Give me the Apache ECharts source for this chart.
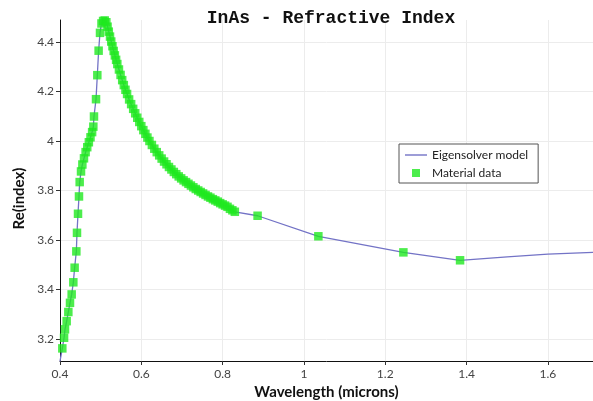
<!DOCTYPE html>
<html>
<head>
<meta charset="utf-8">
<script src="https://cdn.jsdelivr.net/npm/echarts@6/dist/echarts.min.js"></script>
<style>
  html, body { margin: 0; padding: 0; background: #fff; }
  #chart { width: 593px; height: 401px; }
</style>
</head>
<body>
<div id="chart"></div>
<script>
// material data (wavelength in microns, Re(index))
const matWl = [
  0.4057, 0.4100, 0.4123, 0.4164, 0.4205, 0.4246, 0.4287, 0.4328, 0.4360, 0.4402,
  0.4418, 0.4443, 0.4467, 0.4484, 0.4517, 0.4550, 0.4590, 0.4630, 0.4670, 0.4710,
  0.4750, 0.4790, 0.4820, 0.4836, 0.4886, 0.4918, 0.4950, 0.4984, 0.5020, 0.5060,
  0.5100, 0.5140, 0.5170, 0.5200, 0.5230, 0.5260, 0.5290, 0.5320, 0.5350, 0.5380,
  0.5410, 0.5450, 0.5490, 0.5530, 0.5570, 0.5610, 0.5650, 0.5700, 0.5750, 0.5800,
  0.5850, 0.5900, 0.5950, 0.6000, 0.6050, 0.6100, 0.6150, 0.6200, 0.6260, 0.6320,
  0.6380, 0.6440, 0.6500, 0.6560, 0.6620, 0.6680, 0.6740, 0.6800, 0.6860, 0.6920,
  0.6980, 0.7040, 0.7100, 0.7160, 0.7220, 0.7280, 0.7340, 0.7400, 0.7460, 0.7520,
  0.7580, 0.7640, 0.7700, 0.7760, 0.7820, 0.7880, 0.7940, 0.8000, 0.8060, 0.8120,
  0.8180, 0.8240, 0.8300, 0.8860, 1.0355, 1.2446, 1.3840
];
const matN = [
  3.162, 3.205, 3.239, 3.272, 3.309, 3.346, 3.380, 3.429, 3.488, 3.554,
  3.629, 3.706, 3.776, 3.834, 3.877, 3.905, 3.930, 3.955, 3.975, 3.995,
  4.015, 4.036, 4.058, 4.099, 4.169, 4.266, 4.365, 4.437, 4.475, 4.485,
  4.487, 4.480, 4.462, 4.442, 4.422, 4.402, 4.383, 4.364, 4.346, 4.328,
  4.311, 4.289, 4.267, 4.246, 4.226, 4.207, 4.190, 4.168, 4.149, 4.130,
  4.112, 4.094, 4.077, 4.060, 4.044, 4.029, 4.014, 4.000, 3.984, 3.969,
  3.955, 3.942, 3.929, 3.917, 3.906, 3.895, 3.885, 3.875, 3.866, 3.857,
  3.849, 3.841, 3.834, 3.827, 3.820, 3.813, 3.806, 3.800, 3.794, 3.788,
  3.782, 3.776, 3.771, 3.765, 3.760, 3.755, 3.749, 3.744, 3.739, 3.734,
  3.726, 3.720, 3.714, 3.698, 3.615, 3.550, 3.518
];
// model curve ends beyond the data
const modelHeadWl = [0.400];
const modelHeadN = [3.110];
const modelTailWl = [1.500, 1.600, 1.711];
const modelTailN = [3.532, 3.543, 3.550];

const yTicks = [3.2, 3.4, 3.6, 3.8, 4.0, 4.2, 4.4];

const matData = matWl.map((w, i) => [w, matN[i]]);
const modelData = modelHeadWl.map((w, i) => [w, modelHeadN[i]])
  .concat(matData)
  .concat(modelTailWl.map((w, i) => [w, modelTailN[i]]));

const labelFont = "Lato";
const lineColor = "#7373c6";
const dotColor = "#1fe81f";

const chart = echarts.init(document.getElementById("chart"));
chart.setOption({
  animation: false,
  title: {
    text: "InAs - Refractive Index",
    left: 326,
    textAlign: "center",
    top: 4,
    textStyle: { fontFamily: "Liberation Mono", fontWeight: "bold", fontSize: 18, color: "#111" },
  },
  grid: { left: 60, right: 0, top: 20, bottom: 40, outerBoundsMode: "none", containLabel: false },
  legend: {
    left: 399,
    top: 144,
    orient: "vertical",
    backgroundColor: "#fff",
    borderColor: "#555",
    borderWidth: 1,
    padding: [4, 10, 3, 6],
    itemGap: 4,
    itemWidth: 22,
    itemHeight: 8,
    textStyle: { fontFamily: labelFont, fontSize: 12, color: "#222", lineHeight: 14 },
    data: [
      { name: "Eigensolver model", icon: "path://M0,0h22v1.4h-22z" },
      { name: "Material data", icon: "path://M0,0h8v8h-8z" },
    ],
  },
  xAxis: {
    type: "value",
    min: 0.4,
    max: 1.711,
    interval: 0.2,
    name: "Wavelength (microns)",
    nameLocation: "middle",
    nameGap: 18,
    nameTextStyle: { fontFamily: labelFont, fontWeight: "bold", fontSize: 15, color: "#111" },
    axisLine: { lineStyle: { color: "#111", width: 1 } },
    axisTick: { show: true, length: 4, lineStyle: { color: "#333" } },
    axisLabel: {
      showMaxLabel: false,
      margin: 7,
      fontFamily: labelFont,
      fontSize: 12,
      color: "#444",
      formatter: (v) => String(+v.toFixed(1)),
    },
    splitLine: { show: true, lineStyle: { color: "#ececec" } },
  },
  yAxis: {
    type: "value",
    min: 3.111,
    max: 4.489,
    name: "Re(index)",
    nameLocation: "middle",
    nameGap: 27,
    nameTextStyle: {
      fontFamily: labelFont, fontWeight: "bold", fontSize: 15, color: "#111",
      padding: [0, 16, 0, 0],
    },
    axisLine: { show: true, lineStyle: { color: "#111", width: 1 } },
    axisTick: { show: true, length: 4, customValues: yTicks, lineStyle: { color: "#333" } },
    axisLabel: {
      customValues: yTicks,
      margin: 6,
      fontFamily: labelFont,
      fontSize: 12,
      color: "#444",
      formatter: (v) => String(+v.toFixed(1)),
    },
    splitLine: { show: true, lineStyle: { color: "#ececec" } },
  },
  series: [
    {
      name: "Eigensolver model",
      type: "line",
      data: modelData,
      showSymbol: false,
      symbol: "none",
      clip: true,
      z: 2,
      lineStyle: { color: lineColor, width: 1.3 },
      itemStyle: { color: lineColor },
    },
    {
      name: "Material data",
      type: "scatter",
      data: matData,
      symbol: "rect",
      symbolSize: 8.5,
      clip: true,
      z: 3,
      itemStyle: { color: dotColor },
    },
  ],
});
</script>
</body>
</html>
